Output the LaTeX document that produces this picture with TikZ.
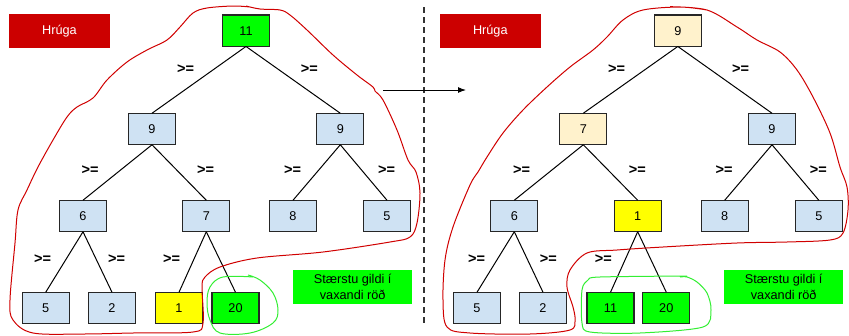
\documentclass[tikz,border=0pt]{standalone}
\usepackage{fontspec}
\setmainfont{Liberation Sans}
\usetikzlibrary{arrows.meta, positioning}

\definecolor{heapblue}{HTML}{CFE2F3}
\definecolor{heapgreen}{HTML}{00FF00}
\definecolor{heapyellow}{HTML}{FFFF00}
\definecolor{heapcream}{HTML}{FFF2CC}
\definecolor{heapred}{HTML}{CC0000}
\definecolor{penred}{HTML}{D00000}
\definecolor{pengreen}{HTML}{33EE33}

\begin{document}
\begin{tikzpicture}[x=1pt,y=-1pt,
  valbox/.style={draw=black!85,line width=1.3pt,minimum width=47pt,minimum height=31.5pt,
    inner sep=0pt,outer sep=0pt,font=\fontsize{12.7}{15}\selectfont},
  titlebox/.style={fill=heapred,text=white,minimum width=101pt,minimum height=33.7pt,
    inner sep=0pt,font=\fontsize{12.7}{15}\selectfont},
  notebox/.style={fill=heapgreen,minimum width=119pt,minimum height=34pt,inner sep=0pt,
    align=center,font=\fontsize{12.7}{15.5}\selectfont},
  gelbl/.style={inner sep=0pt,font=\fontsize{14.5}{15}\selectfont\bfseries},
  tie/.style={black,line width=1pt},
  redpen/.style={penred,line width=1pt},
  greenpen/.style={pengreen,line width=1pt}]
\useasboundingbox (0,0) rectangle (849,335);

% left heap
\node[titlebox] (ttlL) at (59.5,30.8) {Hrúga};
\node[valbox,fill=heapgreen] (la) at (246,30.7) {11};
\node[valbox,fill=heapblue] (lb) at (152,129) {9};
\node[valbox,fill=heapblue] (lc) at (340.3,129) {9};
\node[valbox,fill=heapblue] (ld) at (83,216) {6};
\node[valbox,fill=heapblue] (le) at (206.3,216) {7};
\node[valbox,fill=heapblue] (lf) at (293,216) {8};
\node[valbox,fill=heapblue] (lg) at (387,216) {5};
\node[valbox,fill=heapblue] (lh) at (45.7,308) {5};
\node[valbox,fill=heapblue] (li) at (112,308) {2};
\node[valbox,fill=heapyellow] (lj) at (179,308) {1};
\node[valbox,fill=heapgreen] (lk) at (235.5,308) {20};
\draw[tie] (la.south) -- (lb.north);
\draw[tie] (la.south) -- (lc.north);
\draw[tie] (lb.south) -- (ld.north);
\draw[tie] (lb.south) -- (le.north);
\draw[tie] (lc.south) -- (lf.north);
\draw[tie] (lc.south) -- (lg.north);
\draw[tie] (ld.south) -- (lh.north);
\draw[tie] (ld.south) -- (li.north);
\draw[tie] (le.south) -- (lj.north);
\draw[tie] (le.south) -- (lk.north);
\node[gelbl] (geLa) at (185.7,69) {>=};
\node[gelbl] (geLb) at (309.3,69) {>=};
\node[gelbl] (geLc) at (90,170) {>=};
\node[gelbl] (geLd) at (205.7,170) {>=};
\node[gelbl] (geLe) at (292.7,170) {>=};
\node[gelbl] (geLf) at (386.7,170) {>=};
\node[gelbl] (geLg) at (42.7,259.3) {>=};
\node[gelbl] (geLh) at (116.7,259.3) {>=};
\node[gelbl] (geLi) at (171.7,259.3) {>=};
\node[notebox] (noteL) at (352.7,287) {Stærstu gildi í\\vaxandi röð};
\draw[redpen] plot[smooth,tension=0.55] coordinates {(250,7) (233,6) (207,8) (193,13)
  (180,27) (167,40) (147,50) (127,62) (107,80) (93,98) (77,107) (67,117) (53,140)
  (38,167) (27,190) (18,210) (15,243) (10,300) (13,320) (33,333) (83,334) (133,333)
  (193,332) (203,323) (202,287) (205,277) (220,267) (257,258) (323,252) (390,242)
  (410,237) (417,223) (420,193) (416,172) (408,160) (397,130) (383,100) (375,91)
  (373,87) (357,75) (333,55) (307,30) (290,15) (280,10) (260,9) (246,6)};
\draw[greenpen] plot[smooth,tension=0.6] coordinates {(253,277) (223,277) (210,287)
  (207,303) (210,320) (220,333) (250,333) (273,323) (278,310) (273,293) (260,280)
  (248,275)};

% separator and arrow
\coordinate (sepT) at (424,7);
\coordinate (sepB) at (424,323);
\draw[black!80,line width=1.3pt,dash pattern=on 6pt off 4pt] (sepT) -- (sepB);
\coordinate (arrA) at (383,90);
\coordinate (arrB) at (466,90);
\draw[tie,-{Latex[length=8pt,width=6pt]}] (arrA) -- (arrB);

% right heap
\node[titlebox] (ttlR) at (490.3,30.8) {Hrúga};
\node[valbox,fill=heapcream] (ra) at (677.8,30.7) {9};
\node[valbox,fill=heapcream] (rb) at (583.3,129) {7};
\node[valbox,fill=heapblue] (rc) at (772,129) {9};
\node[valbox,fill=heapblue] (rd) at (514.3,216) {6};
\node[valbox,fill=heapyellow] (re) at (637.7,216) {1};
\node[valbox,fill=heapblue] (rf) at (724.7,216) {8};
\node[valbox,fill=heapblue] (rg) at (818.8,216) {5};
\node[valbox,fill=heapblue] (rh) at (477,308) {5};
\node[valbox,fill=heapblue] (ri) at (543,308) {2};
\node[valbox,fill=heapgreen] (rj) at (610.5,308) {11};
\node[valbox,fill=heapgreen] (rk) at (666.3,308) {20};
\draw[tie] (ra.south) -- (rb.north);
\draw[tie] (ra.south) -- (rc.north);
\draw[tie] (rb.south) -- (rd.north);
\draw[tie] (rb.south) -- (re.north);
\draw[tie] (rc.south) -- (rf.north);
\draw[tie] (rc.south) -- (rg.north);
\draw[tie] (rd.south) -- (rh.north);
\draw[tie] (rd.south) -- (ri.north);
\draw[tie] (re.south) -- (rj.north);
\draw[tie] (re.south) -- (rk.north);
\node[gelbl] (geRa) at (616.7,69) {>=};
\node[gelbl] (geRb) at (740.7,69) {>=};
\node[gelbl] (geRc) at (521.7,170) {>=};
\node[gelbl] (geRd) at (637.3,170) {>=};
\node[gelbl] (geRe) at (724,170) {>=};
\node[gelbl] (geRf) at (818.3,170) {>=};
\node[gelbl] (geRg) at (476.7,259.3) {>=};
\node[gelbl] (geRh) at (548.3,259.3) {>=};
\node[gelbl] (geRi) at (603.3,259.3) {>=};
\node[notebox] (noteR) at (783.7,286.7) {Stærstu gildi í\\vaxandi röð};
\draw[redpen] plot[smooth,tension=0.55] coordinates {(707,10) (680,7) (643,10) (623,20)
  (607,37) (593,50) (570,67) (547,87) (523,110) (503,133) (487,157) (478,172)
  (470,185) (453,227) (445,260) (443,300) (447,327) (470,333) (530,334) (570,330)
  (575,320) (573,307) (567,287) (570,270) (587,253) (617,250) (663,247) (737,243)
  (787,242) (830,240) (843,233) (848,210) (847,187) (840,167) (830,133) (813,97)
  (797,70) (780,52) (757,40) (737,27) (707,10) (670,6.7)};
\draw[greenpen] plot[smooth,tension=0.5] coordinates {(687,276) (600,277) (588,280)
  (582,290) (582,323) (590,332) (640,333) (703,327) (711,310) (707,293) (697,282)
  (687,277) (680,277)};
\end{tikzpicture}
\end{document}
